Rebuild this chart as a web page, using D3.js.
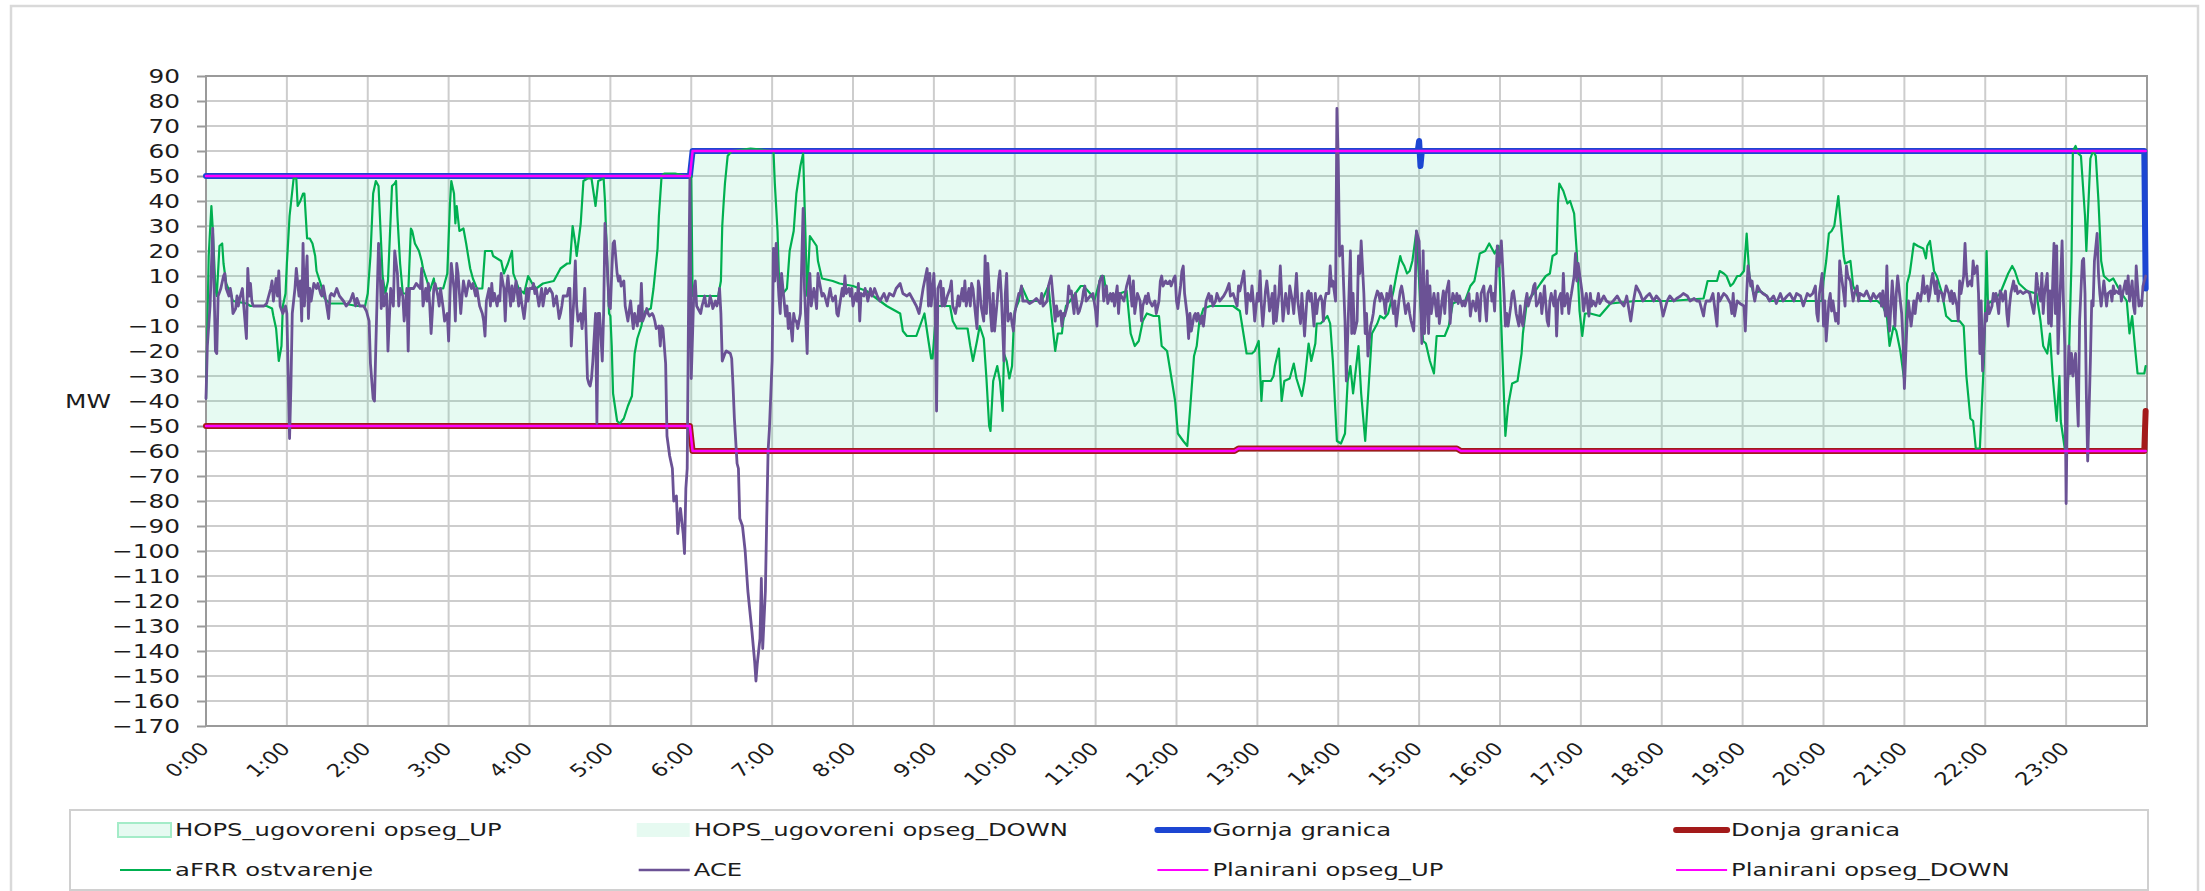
<!DOCTYPE html>
<html lang="hr">
<head>
  <meta charset="UTF-8">
  <title>aFRR ostvarenje / ACE</title>
  <script src="https://d3js.org/d3.v7.min.js"></script>
  <style>
    body { margin: 0; background: #fff; }
    svg text { font-family: "DejaVu Sans", Verdana, sans-serif; fill: #1c1c1c; }
    .ytick text { font-size: 20px; }
    .xtick text { font-size: 18px; }
    .legend text { font-size: 18px; }
    .grid line { stroke: #cdcdcd; stroke-width: 2; }
  </style>
</head>
<body>
<svg id="chart" width="2205" height="891"></svg>
<script>
// tick values / labels
const yTicks = [-170,-160,-150,-140,-130,-120,-110,-100,-90,-80,-70,-60,-50,-40,-30,-20,-10,0,10,20,30,40,50,60,70,80,90];
const hourTicks = [0,60,120,180,240,300,360,420,480,540,600,660,720,780,840,900,960,1020,1080,1140,1200,1260,1320,1380];
const hourLabels = ["0:00","1:00","2:00","3:00","4:00","5:00","6:00","7:00","8:00","9:00","10:00","11:00",
  "12:00","13:00","14:00","15:00","16:00","17:00","18:00","19:00","20:00","21:00","22:00","23:00"];

// [minute of day, MW]
const hopsUp = [[0,50],[359,50],[360,60],[1439,60]];
const hopsDown = [[0,-50],[359,-50],[360,-60],[1439,-60]];
const gornja = [[0,50],[359,50],[361,60],[899,60],[900,64],[901,54],[902,60],[1438,60],[1439,5]];
const donja = [[0,-50],[359,-50],[361,-60],[763,-60],[766,-59],[928,-59],[931,-60],[1438,-60],[1439,-44]];
const planUp = [[0,50],[359,50],[361,60],[1439,60]];
const planDown = [[0,-50],[359,-50],[361,-60],[763,-60],[766,-59],[928,-59],[931,-60],[1439,-60]];

const afrr = [[0,-39],[2,18],[4,38],[5,29],[7,5],[8,2],[10,22],[12,23],[13,15],[15,7],[18,3],[20,0],[30,-1],[33,-2],[45,-2],[49,-3],[50,-6],[52,-11],[54,-24],[56,-18],[57,-2],[59,3],[60,15],[62,34],[65,49],[67,49],[68,38],[70,40],[72,43],[73,43],[75,25],[77,25],[79,23],[81,18],[82,12],[85,7],[88,1],[92,-1],[102,-1],[112,-2],[118,-2],[120,3],[122,18],[124,43],[126,48],[128,46],[129,34],[131,10],[133,3],[135,8],[138,46],[140,47],[141,48],[142,34],[144,15],[146,3],[150,3],[152,29],[153,28],[155,23],[158,20],[160,16],[161,13],[164,8],[166,4],[169,9],[170,5],[176,5],[179,11],[181,39],[182,48],[184,43],[185,31],[186,38],[188,28],[191,29],[193,23],[196,13],[198,9],[201,5],[205,5],[207,20],[212,20],[213,18],[216,17],[219,16],[221,11],[224,15],[227,20],[228,11],[232,5],[236,3],[239,10],[242,7],[245,5],[250,7],[258,8],[263,13],[268,15],[270,15],[272,30],[274,23],[275,18],[278,31],[280,48],[283,49],[286,49],[289,38],[291,48],[295,49],[296,40],[298,10],[299,-5],[300,-6],[301,-18],[302,-37],[305,-48],[307,-49],[310,-47],[313,-42],[316,-38],[318,-21],[320,-15],[323,-10],[324,-7],[326,-4],[330,-3],[332,5],[335,21],[336,34],[338,50],[340,51],[348,51],[357,50],[360,50],[361,2],[369,2],[380,2],[382,8],[383,30],[384,39],[385,47],[387,58],[390,60],[404,61],[421,60],[422,47],[424,28],[425,11],[426,5],[428,3],[431,5],[433,20],[436,28],[438,43],[441,54],[443,59],[446,2],[448,26],[453,22],[454,16],[457,9],[465,8],[470,7],[480,6],[490,4],[505,-2],[515,-5],[517,-12],[520,-14],[527,-14],[531,-8],[533,-5],[536,-16],[538,-23],[539,-23],[542,-2],[547,-2],[552,-2],[554,-8],[557,-11],[565,-11],[567,-18],[569,-24],[572,-16],[574,-10],[577,-15],[579,-31],[581,-50],[582,-52],[584,-32],[587,-26],[589,-32],[591,-44],[592,-21],[594,-24],[596,-31],[598,-26],[599,-13],[600,-4],[603,0],[605,6],[610,0],[620,0],[625,6],[630,-20],[632,-13],[635,-13],[636,-8],[638,-2],[641,0],[649,6],[651,6],[656,3],[659,0],[664,10],[666,10],[668,3],[673,0],[678,3],[683,4],[686,-13],[689,-18],[692,-16],[695,-8],[698,-5],[703,-6],[707,-6],[709,-18],[713,-20],[716,-30],[719,-40],[721,-53],[725,-56],[728,-58],[730,-44],[733,-22],[735,-18],[737,-8],[740,-3],[745,-2],[752,-2],[762,-2],[767,-4],[772,-21],[776,-21],[778,-20],[781,-16],[783,-40],[784,-32],[790,-32],[792,-30],[793,-26],[796,-19],[798,-40],[800,-32],[804,-31],[807,-25],[809,-31],[813,-38],[815,-32],[818,-17],[820,-24],[823,-17],[824,-9],[827,-9],[832,-6],[834,-9],[836,-24],[839,-56],[842,-57],[845,-53],[847,-32],[849,-26],[851,-37],[855,-18],[857,-37],[860,-56],[862,-39],[865,-13],[869,-9],[871,-6],[874,-7],[877,-5],[881,4],[883,10],[886,18],[887,16],[889,14],[891,11],[893,12],[895,16],[898,28],[899,18],[901,-2],[903,-16],[905,-17],[908,-24],[911,-29],[913,-14],[919,-14],[922,-10],[925,-1],[929,0],[934,0],[938,6],[941,8],[945,19],[949,20],[952,23],[954,21],[956,19],[959,22],[961,-10],[964,-54],[966,-42],[969,-33],[973,-32],[976,-21],[977,-13],[980,0],[985,3],[990,7],[994,10],[997,11],[999,18],[1002,19],[1003,39],[1004,47],[1007,44],[1010,39],[1012,40],[1015,35],[1017,19],[1019,-4],[1021,-14],[1023,-5],[1027,-5],[1034,-6],[1042,-1],[1061,0],[1086,0],[1111,1],[1114,8],[1121,8],[1123,12],[1126,11],[1128,10],[1131,6],[1133,7],[1136,10],[1138,10],[1141,12],[1143,27],[1145,10],[1148,3],[1153,4],[1158,2],[1160,0],[1180,0],[1199,0],[1200,8],[1202,16],[1204,27],[1206,28],[1208,30],[1211,42],[1213,30],[1215,18],[1216,15],[1220,16],[1222,6],[1227,0],[1240,0],[1244,-2],[1247,-6],[1249,-18],[1252,-10],[1254,-12],[1257,-20],[1260,-32],[1262,7],[1264,11],[1267,23],[1270,22],[1274,21],[1276,17],[1277,22],[1279,24],[1282,12],[1284,10],[1288,3],[1291,-6],[1295,-8],[1301,-8],[1304,-10],[1306,-30],[1309,-47],[1311,-48],[1313,-59],[1316,-59],[1319,-24],[1321,20],[1322,-1],[1325,0],[1331,3],[1337,11],[1340,14],[1342,12],[1345,7],[1351,4],[1358,3],[1361,-8],[1363,-18],[1366,-21],[1368,-13],[1370,-30],[1373,-48],[1375,-30],[1376,-48],[1379,-59],[1382,-24],[1384,16],[1385,60],[1387,62],[1389,59],[1391,58],[1394,34],[1395,20],[1398,57],[1400,60],[1402,58],[1404,40],[1406,16],[1408,10],[1412,8],[1415,9],[1420,4],[1425,0],[1427,-13],[1429,-6],[1431,-18],[1433,-29],[1438,-29],[1439,-26]];

const ace = [[0,-39],[1,-18],[3,-2],[5,29],[6,5],[7,-20],[8,-21],[9,2],[11,5],[13,10],[14,11],[15,5],[17,2],[18,5],[19,2],[20,-5],[22,-3],[23,2],[24,-2],[25,1],[27,5],[28,-2],[30,-15],[31,13],[32,2],[33,7],[34,0],[35,-2],[38,-2],[40,-2],[43,-2],[45,-1],[48,5],[49,8],[50,0],[52,9],[53,2],[54,12],[55,-2],[57,-5],[59,-2],[60,-5],[62,-55],[63,-34],[64,-5],[66,5],[67,13],[69,2],[70,8],[71,-8],[72,23],[73,-2],[75,18],[76,-7],[77,5],[78,0],[80,7],[82,5],[83,7],[85,3],[86,2],[87,6],[89,0],[91,-7],[92,2],[93,3],[95,2],[97,5],[99,2],[102,0],[104,-2],[107,0],[109,3],[111,-2],[112,1],[114,-2],[117,-2],[119,-4],[121,-8],[122,-25],[124,-39],[125,-40],[126,-18],[128,23],[129,15],[130,-3],[131,8],[132,-2],[134,3],[135,-20],[137,5],[139,-2],[140,20],[142,11],[143,-2],[144,5],[146,2],[147,-8],[149,5],[150,-20],[151,5],[154,5],[156,7],[159,5],[160,13],[161,-2],[163,5],[164,0],[165,7],[166,-2],[167,-13],[169,5],[170,7],[172,2],[173,-2],[174,5],[176,-3],[177,-8],[179,-5],[180,-16],[181,2],[182,15],[184,5],[185,-8],[186,15],[187,11],[189,-5],[190,2],[191,8],[192,5],[193,2],[195,8],[197,5],[198,7],[200,2],[201,5],[203,-2],[205,-5],[206,-8],[207,-14],[208,0],[210,5],[211,-2],[212,7],[213,0],[214,3],[216,-2],[217,2],[218,0],[219,11],[221,5],[222,-8],[223,5],[224,10],[226,-2],[227,6],[228,0],[230,8],[232,-2],[233,5],[234,0],[236,-7],[237,-2],[238,5],[239,0],[240,5],[242,5],[243,7],[244,3],[245,5],[247,-2],[249,5],[250,-2],[252,5],[253,3],[255,5],[257,3],[258,-2],[260,2],[262,-7],[263,-5],[264,-2],[265,2],[266,2],[268,2],[269,5],[270,5],[271,-18],[273,2],[274,16],[275,-2],[276,-8],[278,-5],[279,-11],[280,-5],[281,5],[283,-31],[284,-33],[285,-34],[286,-31],[287,-24],[289,-5],[290,-49],[291,-5],
  [292,-5],[294,-24],[295,-5],[296,31],[297,23],[299,-2],[300,-3],[301,11],[302,23],[303,24],[305,11],[306,8],[307,10],[308,6],[310,8],[311,-2],[312,-5],[313,-8],[315,0],[316,-6],[317,-11],[318,-5],[320,-10],[321,-2],[322,-8],[323,7],[324,-8],[326,-5],[327,-3],[328,-5],[329,-6],[331,-5],[332,-6],[333,-8],[334,-11],[336,-10],[337,-18],[338,-10],[339,-11],[341,-25],[342,-54],[344,-62],[346,-67],[347,-80],[349,-78],[350,-93],[351,-87],[352,-83],[354,-93],[355,-101],[356,-75],[357,-67],[358,-2],[359,49],[360,-31],[362,5],[363,8],[364,-2],[365,-3],[367,-5],[368,-2],[369,0],[370,2],[371,-2],[373,-2],[374,2],[375,0],[376,-3],[378,0],[379,-2],[380,0],[381,5],[382,-5],[383,-24],[385,-21],[386,-20],[389,-21],[390,-23],[391,-34],[392,-47],[394,-65],[395,-67],[396,-87],[398,-90],[400,-100],[402,-116],[405,-132],[407,-144],[408,-152],[409,-145],[411,-135],[412,-111],[413,-139],[415,-116],[416,-87],[417,-60],[418,-51],[420,-24],[421,21],[422,8],[423,23],[425,2],[426,-5],[427,11],[428,5],[430,-6],[431,-2],[432,-11],[433,-5],[435,-16],[436,-5],[437,-8],[438,-8],[439,-11],[441,-5],[443,37],[444,5],[446,-21],[447,5],[448,11],[449,-2],[451,5],[452,2],[453,-3],[454,11],[456,5],[457,2],[458,3],[459,2],[461,-2],[462,2],[463,5],[464,2],[465,0],[467,2],[468,-5],[469,-6],[470,-2],[472,5],[473,2],[474,10],[475,3],[477,5],[478,2],[479,5],[480,-2],[482,3],[483,0],[484,7],[485,-8],[486,3],[488,2],[489,5],[490,3],[491,0],[493,5],[494,2],[495,3],[496,5],[498,2],[500,0],[503,3],[505,0],[507,3],[510,2],[512,5],[515,7],[516,5],[517,3],[520,2],[522,3],[525,0],[527,-2],[529,-5],[530,-2],[532,5],[535,13],[536,-2],[537,11],[538,-2],[540,11],[541,-2],[542,-44],[543,5],[545,8],[546,-2],[547,5],[548,-2],[550,2],[552,5],[553,8],[554,-2],[556,-5],[557,-2],[558,2],[559,-2],[561,5],[562,0],[563,8],[564,-2],[566,5],[567,-2],[568,7],[569,5],[571,-6],[572,-11],[573,8],[574,5],[575,-2],[577,-8],[578,18],[579,-5],[580,15],
  [582,-5],[583,-12],[584,3],[585,-12],[587,0],[588,8],[589,12],[590,3],[592,-24],[593,3],[594,11],[595,-8],[597,-5],[598,-9],[599,-12],[600,-5],[601,-2],[603,3],[604,3],[605,6],[606,0],[609,0],[611,-1],[614,0],[616,1],[619,-1],[620,3],[621,-2],[624,0],[625,6],[627,10],[628,4],[630,-8],[631,-2],[632,-6],[634,-4],[635,-10],[636,-5],[637,-6],[639,-2],[640,6],[641,3],[642,4],[644,-5],[645,3],[646,-1],[647,-5],[648,-4],[650,0],[651,4],[652,6],[653,0],[656,2],[658,3],[660,-4],[661,-10],[662,3],[663,8],[665,10],[666,0],[667,3],[668,6],[669,-1],[671,3],[672,0],[673,3],[674,-2],[676,6],[677,-5],[678,3],[681,0],[683,6],[685,10],[687,-2],[688,8],[689,-5],[691,3],[693,0],[694,-8],[695,-2],[697,2],[698,-1],[699,3],[700,0],[702,-2],[703,-1],[704,0],[705,-5],[707,0],[708,8],[709,10],[710,6],[712,8],[713,7],[714,7],[715,8],[716,6],[718,9],[719,10],[720,0],[721,-3],[723,6],[724,12],[725,14],[726,3],[728,-6],[729,-15],[730,-5],[731,-12],[733,-6],[734,-5],[735,-8],[736,-5],[738,-9],[739,-6],[740,-10],[741,-5],[742,0],[744,3],[745,0],[746,2],[747,-2],[749,0],[750,3],[752,0],[755,2],[757,4],[759,7],[760,2],[762,3],[765,-2],[766,6],[767,4],[770,12],[771,3],[772,-5],[773,3],[775,0],[776,6],[777,0],[778,-8],[780,3],[781,0],[782,12],[783,-2],[784,-10],[786,4],[787,8],[788,3],[789,-4],[791,3],[792,-9],[793,6],[794,-8],[796,3],[797,14],[798,3],[799,-8],[801,3],[802,-1],[803,-5],[804,6],[806,0],[807,-5],[808,3],[809,11],[810,0],[812,-9],[813,3],[814,-5],[815,-14],[817,3],[818,4],[819,0],[820,3],[822,-10],[823,3],[824,-5],[825,0],[827,2],[828,0],[829,-8],[830,0],[831,3],[833,3],[834,14],[835,6],[836,8],[838,0],[839,77],[840,56],[841,18],[843,22],[844,6],[845,-8],[846,-32],[848,3],[849,20],[850,-13],[851,3],[852,-13],[854,-8],[855,18],[856,11],[857,24],[859,3],[860,-13],[861,-5],[862,-22],[864,-10],[865,-8],[866,-5],[867,0],[869,4],[870,3],
  [871,0],[872,3],[874,0],[875,-5],[876,3],[877,0],[879,6],[880,-1],[881,-5],[882,0],[883,-10],[885,0],[886,4],[887,6],[888,3],[890,-5],[891,-2],[892,-1],[893,-5],[894,-8],[896,-12],[897,3],[898,28],[900,24],[901,3],[902,-17],[903,20],[904,-13],[906,12],[907,-13],[908,6],[909,-5],[911,3],[912,-1],[913,-6],[914,3],[915,-9],[917,0],[918,4],[919,-5],[920,3],[922,8],[923,-9],[924,-2],[925,3],[927,0],[928,3],[929,-1],[930,2],[932,-2],[933,0],[934,-2],[935,0],[937,3],[938,-6],[939,-2],[940,0],[942,-4],[943,3],[944,-1],[945,-8],[946,3],[948,6],[949,-2],[950,-8],[951,3],[953,6],[954,0],[955,3],[956,-4],[958,22],[959,14],[960,16],[961,24],[963,3],[964,-10],[965,-5],[966,-10],[968,-2],[969,3],[970,4],[971,0],[972,-5],[974,-10],[975,-2],[976,-8],[977,-10],[979,0],[980,3],[981,-2],[982,0],[984,3],[985,6],[986,7],[987,-2],[989,0],[990,3],[991,-5],[992,0],[993,6],[995,-8],[996,-10],[997,0],[998,3],[1000,-2],[1001,4],[1002,-14],[1003,0],[1005,3],[1006,-5],[1007,11],[1008,-2],[1010,3],[1011,-5],[1012,0],[1013,3],[1015,10],[1016,19],[1017,8],[1018,15],[1019,11],[1021,3],[1022,-4],[1023,0],[1024,3],[1026,-6],[1027,3],[1028,-2],[1029,0],[1031,-2],[1032,0],[1033,3],[1034,-1],[1037,2],[1039,0],[1042,-1],[1044,0],[1047,2],[1049,0],[1052,-2],[1054,2],[1057,-8],[1059,0],[1061,6],[1064,3],[1066,0],[1069,2],[1071,3],[1074,0],[1076,2],[1079,0],[1081,-6],[1084,0],[1086,2],[1089,0],[1091,1],[1094,2],[1096,3],[1099,2],[1101,0],[1104,1],[1106,0],[1108,0],[1111,-6],[1112,-2],[1113,0],[1116,0],[1118,3],[1121,-10],[1122,3],[1123,0],[1126,3],[1128,2],[1131,-1],[1132,-5],[1133,3],[1134,-6],[1136,0],[1138,-1],[1141,-2],[1142,-12],[1143,3],[1144,14],[1146,6],[1147,8],[1148,3],[1149,0],[1151,6],[1153,4],[1155,3],[1158,2],[1160,0],
  [1163,2],[1165,-1],[1168,3],[1170,0],[1173,2],[1175,3],[1178,0],[1180,3],[1183,2],[1185,-2],[1188,3],[1190,2],[1192,3],[1194,6],[1195,-5],[1196,-8],[1197,3],[1199,11],[1200,-10],[1201,0],[1202,-16],[1204,0],[1205,3],[1206,-4],[1207,0],[1209,-8],[1210,-5],[1211,-9],[1212,16],[1213,11],[1215,3],[1216,-2],[1217,14],[1218,10],[1220,8],[1221,4],[1222,0],[1223,3],[1225,6],[1226,0],[1227,3],[1230,2],[1232,4],[1235,0],[1237,3],[1239,1],[1242,3],[1243,-2],[1244,4],[1246,-6],[1247,14],[1248,-5],[1249,-12],[1251,8],[1252,0],[1253,-10],[1254,3],[1255,10],[1257,0],[1258,-5],[1259,-16],[1260,-35],[1262,-8],[1263,0],[1264,-5],[1265,-10],[1267,0],[1268,-5],[1269,0],[1270,3],[1272,0],[1273,4],[1274,10],[1275,3],[1277,6],[1278,0],[1279,3],[1280,8],[1281,11],[1283,3],[1284,8],[1285,0],[1286,4],[1288,3],[1289,0],[1290,3],[1291,6],[1293,3],[1294,0],[1295,4],[1296,-1],[1297,3],[1299,-2],[1300,-8],[1301,8],[1302,3],[1304,10],[1305,23],[1306,11],[1307,6],[1309,8],[1310,6],[1311,16],[1312,11],[1314,14],[1315,3],[1316,-21],[1317,0],[1318,-28],[1320,-5],[1321,-8],[1322,0],[1323,-5],[1325,-2],[1326,3],[1327,0],[1328,3],[1330,-5],[1331,4],[1332,3],[1333,0],[1335,4],[1336,-5],[1337,-10],[1338,-2],[1339,3],[1341,8],[1342,4],[1343,6],[1344,3],[1346,4],[1348,3],[1351,4],[1353,3],[1354,0],[1356,-5],[1357,0],[1358,11],[1359,6],[1361,0],[1362,11],[1363,-5],[1364,3],[1366,11],[1367,-9],[1368,4],[1369,-10],[1371,23],[1372,-5],[1373,22],[1374,-21],[1375,-5],[1377,24],[1378,0],[1379,-18],[1380,-81],[1381,-37],[1382,-18],[1383,-29],[1384,-21],[1385,-30],[1387,-21],[1388,-37],[1389,-50],[1390,-8],[1392,16],[1393,17],[1394,3],[1395,-37],[1396,-64],[1398,-24],[1399,0],[1400,-2],[1401,16],[1403,27],[1404,11],[1405,3],[1406,-2],[1408,8],[1409,3],[1410,-2],[1411,3],[1413,4],[1414,0],[1415,6],[1416,3],[1417,4],[1419,3],[1420,6],[1421,0],[1422,3],[1424,8],[1425,3],[1426,10],[1427,0],[1429,8],[1430,-2],[1431,-5],[1432,14],[1434,-2],[1435,0],[1436,-2],[1437,6],[1439,10]];

const legendItems = [
  { name: "HOPS_ugovoreni opseg_UP", kind: "area", border: true },
  { name: "HOPS_ugovoreni opseg_DOWN", kind: "area", border: false },
  { name: "Gornja granica", kind: "line", color: "#1c46d2", width: 6 },
  { name: "Donja granica", kind: "line", color: "#a31a1a", width: 6 },
  { name: "aFRR ostvarenje", kind: "line", color: "#00b050", width: 2 },
  { name: "ACE", kind: "line", color: "#6b5295", width: 2.5 },
  { name: "Planirani opseg_UP", kind: "line", color: "#ff00ff", width: 2 },
  { name: "Planirani opseg_DOWN", kind: "line", color: "#ff00ff", width: 2 }
];

const svg = d3.select("#chart");
const SX_TICK = 1.24, SX_LEG = 1.35;

// outer frame
svg.append("rect").attr("x", 11).attr("y", 6).attr("width", 2187).attr("height", 900)
  .attr("fill", "none").attr("stroke", "#d9d9d9").attr("stroke-width", 2.5);

const x = d3.scaleLinear().domain([0, 1440]).range([206, 2147]);
const y = d3.scaleLinear().domain([-170, 90]).range([726, 76]);

// grid
const grid = svg.append("g").attr("class", "grid");
grid.selectAll(".h").data(yTicks.slice(1, -1)).join("line")
  .attr("x1", x(0)).attr("x2", x(1440)).attr("y1", d => y(d)).attr("y2", d => y(d));
grid.selectAll(".v").data(hourTicks.slice(1)).join("line")
  .attr("x1", d => x(d)).attr("x2", d => x(d)).attr("y1", y(90)).attr("y2", y(-170));

// contracted range fill
const fillArea = d3.area().x(d => x(d[0])).y0(y(0)).y1(d => y(d[1]));
[hopsUp, hopsDown].forEach(s => {
  svg.append("path").datum(s).attr("d", fillArea)
    .attr("fill", "#2fd593").attr("fill-opacity", 0.12);
});

// frame
svg.append("rect").attr("x", x(0)).attr("y", y(90)).attr("width", x(1440) - x(0)).attr("height", y(-170) - y(90))
  .attr("fill", "none").attr("stroke", "#9a9a9a").attr("stroke-width", 2);

// axes
const yAxis = svg.append("g").attr("class", "ytick").attr("transform", `translate(${x(0)},0)`)
  .call(d3.axisLeft(y).tickValues(yTicks).tickSize(9).tickPadding(17));
yAxis.select(".domain").remove();
yAxis.selectAll(".tick line").attr("stroke", "#9a9a9a").attr("stroke-width", 2);
yAxis.selectAll(".tick text").attr("x", -26 / SX_TICK).attr("transform", `scale(${SX_TICK},1)`);

const xAxis = svg.append("g").attr("class", "xtick").attr("transform", `translate(0,${y(-170)})`)
  .call(d3.axisBottom(x).tickValues(hourTicks).tickFormat((d, i) => hourLabels[i]).tickSize(0));
xAxis.select(".domain").remove();
xAxis.selectAll(".tick text").attr("y", null).attr("dy", null).attr("text-anchor", "end")
  .attr("transform", "translate(4,24) scale(1.25,1) rotate(-45)");

svg.append("text").attr("class", "ytick").attr("font-size", 20).attr("text-anchor", "middle")
  .attr("transform", `translate(88,${y(-40)}) scale(${SX_TICK},1)`).attr("dy", "0.35em").text("MW");

// series
const line = d3.line().x(d => x(d[0])).y(d => y(d[1]));
const drawLine = (data, color, width) => svg.append("path").datum(data).attr("d", line)
  .attr("fill", "none").attr("stroke", color).attr("stroke-width", width)
  .attr("stroke-linejoin", "round").attr("stroke-linecap", "round");

drawLine(gornja, "#1c46d2", 6);
drawLine(donja, "#a31a1a", 6);
drawLine(afrr, "#00b050", 2.2);
drawLine(ace, "#6b5295", 2.8);
drawLine(planUp, "#ff00ff", 2.5);
drawLine(planDown, "#ff00ff", 2.5);

// legend
const leg = svg.append("g").attr("class", "legend");
leg.append("rect").attr("x", 70).attr("y", 810).attr("width", 2078).attr("height", 80)
  .attr("fill", "#fff").attr("stroke", "#d0d0d0").attr("stroke-width", 2);
legendItems.forEach((it, i) => {
  const cx = 118 + (i % 4) * 518.7, cy = i < 4 ? 830 : 870;
  const g = leg.append("g").attr("transform", `translate(${cx},${cy})`);
  if (it.kind === "area") {
    g.append("rect").attr("x", 0).attr("y", -7).attr("width", 53).attr("height", 14)
      .attr("fill", "#e6faf1").attr("stroke", it.border ? "#a4ecc8" : "none").attr("stroke-width", 2);
  } else {
    g.append("line").attr("x1", 2).attr("x2", 53).attr("y1", 0).attr("y2", 0)
      .attr("stroke", it.color).attr("stroke-width", it.width).attr("stroke-linecap", it.width > 3 ? "round" : "butt");
  }
  g.append("text").attr("x", 57 / SX_LEG).attr("dy", "0.35em")
    .attr("transform", `scale(${SX_LEG},1)`).text(it.name);
});
</script>
</body>
</html>
